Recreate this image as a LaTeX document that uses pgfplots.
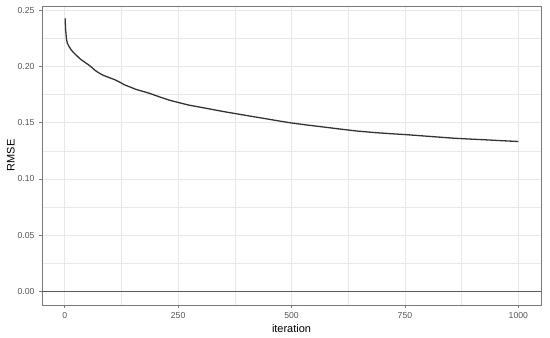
\documentclass[border=0pt]{standalone}
\usepackage{pgfplots}
\pgfplotsset{compat=1.18}
\usepackage{fontspec}
\setmainfont{Liberation Sans}
\definecolor{gridc}{HTML}{E8E8E8}
\definecolor{borderc}{HTML}{7A7A7A}
\definecolor{tickc}{HTML}{555555}
\definecolor{linec}{HTML}{333333}
\pgfplotstableread{
x y
1 0.2425
2 0.2330
4 0.2240
6 0.2205
9 0.2180
14 0.2148
20 0.2120
27 0.2093
34 0.2066
43 0.2040
52 0.2015
60 0.1990
67 0.1964
76 0.1940
85 0.1920
98 0.1900
111 0.1880
122 0.1858
132 0.1835
145 0.1815
157 0.1795
172 0.1778
187 0.1760
208 0.1730
230 0.1700
252 0.1677
274 0.1655
300 0.1636
325 0.1617
350 0.1598
376 0.1580
408 0.1558
441 0.1536
470 0.1516
499 0.1497
535 0.1478
572 0.1460
608 0.1442
644 0.1425
684 0.1411
724 0.1400
752 0.1393
782 0.1384
818 0.1373
855 0.1362
890 0.1354
927 0.1347
964 0.1339
1000 0.1332
}\rmse
\begin{document}
\begin{tikzpicture}
\begin{axis}[
  at={(0,0)}, anchor=south west,
  scale only axis, width=499bp, height=299bp,
  xmin=-50, xmax=1050, ymin=-0.0121, ymax=0.2536,
  xtick={0,250,500,750,1000},
  minor xtick={125,375,625,875},
  ytick={0,0.05,0.1,0.15,0.2,0.25},
  minor ytick={0.025,0.075,0.125,0.175,0.225},
  xticklabel style={/pgf/number format/1000 sep={}},
  yticklabel style={/pgf/number format/fixed,/pgf/number format/precision=2,/pgf/number format/fixed zerofill},
  scaled y ticks=false,
  /pgf/number format/assume math mode=true,
  xtick pos=bottom, ytick pos=left,
  tick align=outside,
  major tick length=3bp, minor tick length=0pt,
  every tick/.style={color=borderc, line width=0.6bp},
  grid=both,
  major grid style={color=gridc, line width=0.7bp},
  minor grid style={color=gridc, line width=0.4bp},
  axis line style={color=borderc, line width=0.8bp},
  ticklabel style={font=\fontsize{8.7}{10}\selectfont, color=tickc},
  xticklabel style={yshift=-1bp},
  yticklabel style={xshift=-1bp},
  xlabel={iteration}, ylabel={RMSE},
  label style={font=\fontsize{11}{13}\selectfont, color=black},
  xlabel style={yshift=1bp},
  ylabel style={yshift=-4bp},
]
\addplot[color=gray!70!black, line width=1bp, forget plot] coordinates {(-50,0) (1050,0)};
\addplot[color=linec, line width=1.3bp, no marks] table[x=x,y=y] {\rmse};
\end{axis}
\pgfresetboundingbox
\path[use as bounding box] (-42bp,-33bp) rectangle (508bp,305bp);
\end{tikzpicture}
\end{document}
